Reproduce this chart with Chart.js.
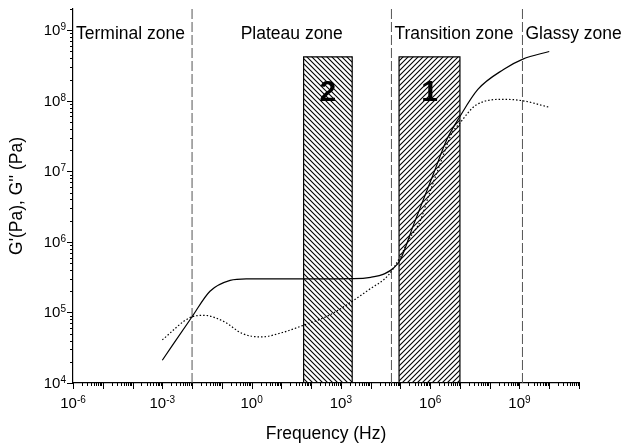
<!DOCTYPE html>
<html>
<head>
<meta charset="utf-8">
<script src="https://cdn.jsdelivr.net/npm/chart.js"></script>
<style>
  html, body { margin: 0; padding: 0; background: #fff; }
  #wrap { width: 637px; height: 445px; }
</style>
</head>
<body>
<div id="wrap"><canvas id="chart" width="637" height="445"></canvas></div>
<script>
// tick labels (10 to the power shown)
const xLabelValues = [1e-6, 1e-3, 1, 1e3, 1e6, 1e9];
const xLabelExponents = ['-6', '-3', '0', '3', '6', '9'];
const yLabelValues = [1e4, 1e5, 1e6, 1e7, 1e8, 1e9];
const yLabelExponents = ['4', '5', '6', '7', '8', '9'];

// G' (solid)
const freqStorage = [1e-3, 1e-2, 4e-2, 0.19, 0.66, 10, 100, 2.7e3, 1e4, 3e4, 6e4, 1e5, 2.7e5, 1.3e6, 3.6e6, 1e7, 4e7, 3e8, 1.3e9, 1e10];
const storageModulus = [2.1e4, 8.7e4, 2.0e5, 2.85e5, 3.0e5, 3.0e5, 3.0e5, 3.02e5, 3.15e5, 3.55e5, 4.3e5, 5.6e5, 1.7e6, 9.3e6, 2.8e7, 6.0e7, 1.45e8, 2.8e8, 3.9e8, 5.0e8];

// G'' (dotted)
const freqLoss = [1e-3, 1e-2, 2.5e-2, 0.12, 0.5, 2.1, 11, 51, 400, 1.9e3, 8.7e3, 4e4, 1e5, 1.9e5, 4.7e5, 8.7e5, 2.2e6, 5.4e6, 9e6, 3.5e7, 3e8, 1.3e9, 1e10];
const lossModulus = [4.1e4, 8.7e4, 9.1e4, 7.4e4, 5.0e4, 4.5e4, 5.2e4, 6.5e4, 9.1e4, 1.35e5, 2.1e5, 3.4e5, 6.2e5, 1.07e6, 2.0e6, 4.4e6, 1.3e7, 3.5e7, 4.6e7, 8.7e7, 1.05e8, 1.0e8, 8.1e7];

// zones and hatched bands
const zoneBoundaries = [1e-2, 5e4, 1.26e9];
const zoneNames = ['Terminal zone', 'Plateau zone', 'Transition zone', 'Glassy zone'];
const bandLeft = [56, 9e4];
const bandRight = [2400, 1e7];
const bandTop = 4.2e8;
const bandNames = ['2', '1'];

const xMin = 1e-6, xMax = 1e11;
const yMin = 1e4, yMax = 2e9;
const FONT = '"Liberation Sans", Arial, sans-serif';

function isDecade(v) {
  const l = Math.log10(v);
  return Math.abs(l - Math.round(l)) < 1e-6;
}
function logTicks(e0, e1) {
  const t = [];
  for (let e = e0; e < e1; e++) {
    for (let m = 1; m < 10; m++) t.push({ value: m * Math.pow(10, e) });
  }
  t.push({ value: Math.pow(10, e1) });
  return t;
}

const ctx = document.getElementById('chart').getContext('2d');

function hatch(dir) {
  const s = 5;
  const c = document.createElement('canvas');
  c.width = s; c.height = s;
  const g = c.getContext('2d');
  g.strokeStyle = '#000';
  g.lineWidth = 1.1;
  g.beginPath();
  if (dir > 0) {
    g.moveTo(0, s); g.lineTo(s, 0);
    g.moveTo(-1, 1); g.lineTo(1, -1);
    g.moveTo(s - 1, s + 1); g.lineTo(s + 1, s - 1);
  } else {
    g.moveTo(0, 0); g.lineTo(s, s);
    g.moveTo(-1, s - 1); g.lineTo(1, s + 1);
    g.moveTo(s - 1, -1); g.lineTo(s + 1, 1);
  }
  g.stroke();
  return ctx.createPattern(c, 'repeat');
}

const datasets = [
  {
    label: "G'",
    data: freqStorage.map((f, i) => ({ x: f, y: storageModulus[i] })),
    borderColor: '#000', borderWidth: 1.2, pointRadius: 0,
    cubicInterpolationMode: 'monotone', fill: false, order: 0
  },
  {
    label: "G''",
    data: freqLoss.map((f, i) => ({ x: f, y: lossModulus[i] })),
    borderColor: '#000', borderWidth: 1.2, borderDash: [1.5, 2], pointRadius: 0,
    cubicInterpolationMode: 'monotone', fill: false, order: 0
  }
];
zoneBoundaries.forEach(f => {
  datasets.push({
    data: [{ x: f, y: yMin }, { x: f, y: yMax }],
    borderColor: '#555', borderWidth: 1, borderDash: [10, 3],
    pointRadius: 0, fill: false, order: 1
  });
});
bandLeft.forEach((l, i) => {
  const r = bandRight[i];
  datasets.push({
    data: [{ x: l, y: yMin }, { x: l, y: bandTop }, { x: r, y: bandTop }, { x: r, y: yMin }, { x: l, y: yMin }],
    borderColor: '#000', borderWidth: 1.2, backgroundColor: hatch(i === 0 ? -1 : 1),
    fill: 'shape', pointRadius: 0, tension: 0, order: 2
  });
});

// tick marks (long at decades) and 10^n labels, placed from the scales
const axisMarks = {
  id: 'axisMarks',
  afterDraw(chart) {
    const c = chart.ctx, xs = chart.scales.x, ys = chart.scales.y;
    c.save();
    c.strokeStyle = '#000';
    c.lineWidth = 1;
    xs.ticks.forEach(t => {
      const px = Math.round(xs.getPixelForValue(t.value)) + 0.5;
      const len = isDecade(t.value) ? 6 : 3;
      c.beginPath(); c.moveTo(px, xs.top); c.lineTo(px, xs.top + len); c.stroke();
    });
    ys.ticks.forEach(t => {
      const py = Math.round(ys.getPixelForValue(t.value)) + 0.5;
      const len = isDecade(t.value) ? 6 : 3;
      c.beginPath(); c.moveTo(ys.right, py); c.lineTo(ys.right - len, py); c.stroke();
    });

    c.fillStyle = '#000';
    c.textBaseline = 'alphabetic';
    c.textAlign = 'left';
    const base = '15px ' + FONT, sup = '10px ' + FONT;
    const measure = e => {
      c.font = base; const w1 = c.measureText('10').width;
      c.font = sup; const w2 = c.measureText(e).width;
      return [w1, w2];
    };
    const draw = (x, y, e, w1) => {
      c.font = base; c.fillText('10', x, y);
      c.font = sup; c.fillText(e, x + w1, y - 5);
    };
    xLabelValues.forEach((v, i) => {
      const e = xLabelExponents[i];
      const [w1, w2] = measure(e);
      const px = xs.getPixelForValue(v);
      draw(px - (w1 + w2) / 2, xs.top + 25, e, w1);
    });
    yLabelValues.forEach((v, i) => {
      const e = yLabelExponents[i];
      const [w1, w2] = measure(e);
      const py = ys.getPixelForValue(v);
      draw(ys.right - 7 - (w1 + w2), py + 5, e, w1);
    });
    c.restore();
  }
};

const zoneText = {
  id: 'zoneText',
  afterDatasetsDraw(chart) {
    const c = chart.ctx, xs = chart.scales.x, ys = chart.scales.y, a = chart.chartArea;
    const b = zoneBoundaries.map(v => xs.getPixelForValue(v));
    c.save();
    c.fillStyle = '#000';
    c.textBaseline = 'middle';
    c.font = '17.5px ' + FONT;
    const ty = a.top + 25;
    c.textAlign = 'left';
    c.fillText(zoneNames[0], a.left + 3, ty);
    c.textAlign = 'center';
    c.fillText(zoneNames[1], (b[0] + b[1]) / 2, ty);
    c.textAlign = 'left';
    c.fillText(zoneNames[2], b[1] + 3, ty);
    c.fillText(zoneNames[3], b[2] + 3, ty);
    c.font = 'bold 30px ' + FONT;
    c.textAlign = 'center';
    const topPx = ys.getPixelForValue(bandTop);
    bandNames.forEach((n, i) => {
      const cx = (xs.getPixelForValue(bandLeft[i]) + xs.getPixelForValue(bandRight[i])) / 2;
      c.fillText(n, cx, topPx + 36);
    });
    c.restore();
  }
};

new Chart(ctx, {
  type: 'line',
  data: { datasets: datasets },
  plugins: [axisMarks, zoneText],
  options: {
    responsive: false,
    animation: false,
    layout: { padding: { left: 0, right: 58, top: 9, bottom: 0 } },
    plugins: { legend: { display: false }, tooltip: { enabled: false } },
    scales: {
      x: {
        type: 'logarithmic', position: 'bottom', min: xMin, max: xMax,
        afterBuildTicks: s => { s.ticks = logTicks(-6, 11); },
        afterFit: s => { s.height = 62; },
        grid: { display: false, drawTicks: false },
        border: { display: true, color: '#000', width: 1.2 },
        ticks: { display: false, autoSkip: false },
        title: {
          display: true, text: 'Frequency (Hz)', color: '#000',
          font: { family: FONT, size: 17.5 }, padding: { top: 0, bottom: 0 }
        }
      },
      y: {
        type: 'logarithmic', position: 'left', min: yMin, max: yMax,
        afterBuildTicks: s => { s.ticks = logTicks(4, 9).concat([{ value: 2e9 }]); },
        afterFit: s => { s.width = 73; },
        grid: { display: false, drawTicks: false },
        border: { display: true, color: '#000', width: 1.2 },
        ticks: { display: false, autoSkip: false },
        title: {
          display: true, text: "G'(Pa), G'' (Pa)", color: '#000',
          font: { family: FONT, size: 17.5 }, padding: { top: 7, bottom: 0 }
        }
      }
    }
  }
});
</script>
</body>
</html>
